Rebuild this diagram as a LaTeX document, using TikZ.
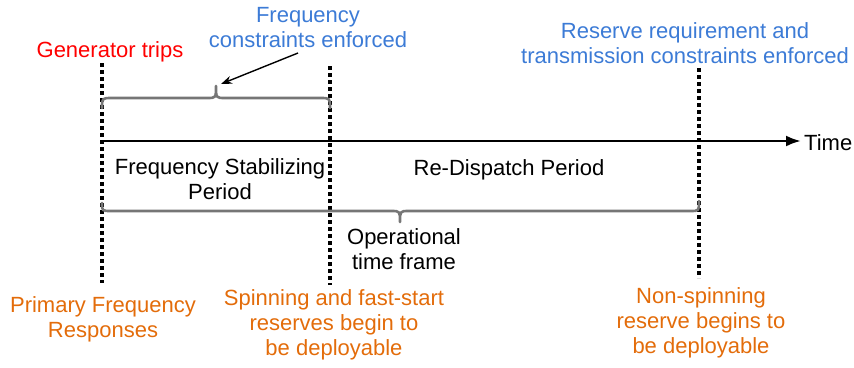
\documentclass[tikz,border=0pt]{standalone}
\usepackage{fontspec}
\setmainfont{Liberation Sans}
\usetikzlibrary{arrows.meta}
\definecolor{tripred}{HTML}{FF0000}
\definecolor{enforceblue}{HTML}{3C7BD6}
\definecolor{reserveorange}{HTML}{E36C0A}
\definecolor{bracegray}{HTML}{767676}
\tikzset{
  lbl/.style={font=\fontsize{22}{25}\selectfont, align=center, anchor=base, inner sep=0pt},
  marker/.style={line width=3.2pt, dash pattern=on 4pt off 3pt},
  bracepath/.style={draw=bracegray, line width=2.6pt, line cap=round, line join=round},
  axis/.style={line width=2.6pt, -{Latex[length=15pt,width=11pt]}},
  pointer/.style={line width=1.4pt, -{Stealth[length=11pt,width=8pt]}},
}
\begin{document}
\begin{tikzpicture}[x=1pt,y=-1pt]
\useasboundingbox (0,0) rectangle (854,367);

% event markers
\coordinate (m1top) at (102,63);  \coordinate (m1bot) at (102,283);
\coordinate (m2top) at (330,66);  \coordinate (m2bot) at (330,285);
\coordinate (m3top) at (699,68);  \coordinate (m3bot) at (699,278);
\draw[marker] (m1top) -- (m1bot);
\draw[marker] (m2top) -- (m2bot);
\draw[marker] (m3top) -- (m3bot);

% time axis
\coordinate (t0) at (102,141);
\coordinate (t1) at (801,141);
\draw[axis] (t0) -- (t1);
\node[lbl, anchor=base west] (time) at (804,150) {Time};

% brace over the stabilizing period
\coordinate (toptip) at (216,86);
\draw[bracepath] (102,108) .. controls (102,98) .. (112,98) -- (207,98)
  .. controls (216,98) .. (toptip) .. controls (216,98) .. (225,98) -- (320,98)
  .. controls (330,98) .. (330,108);

% brace under the whole operational frame
\coordinate (bottip) at (400,222);
\draw[bracepath] (102,203) .. controls (102,211) .. (111,211) -- (391,211)
  .. controls (400,211) .. (bottip) .. controls (400,211) .. (409,211) -- (690,211)
  .. controls (699,211) .. (699,201);

% labels above the axis (base anchor = baseline of the last line)
\node[lbl, text=tripred] (trip) at (110,57) {Generator trips};
\node[lbl, text=enforceblue] (freqc) at (308,47) {Frequency\\constraints enforced};
\node[lbl, text=enforceblue] (resc) at (685,63) {Reserve requirement and\\transmission constraints enforced};

% pointer from the frequency-constraint note to the brace tip
\coordinate (ptrstart) at (298,53);
\coordinate (ptrend) at (221,84);
\draw[pointer] (ptrstart) -- (ptrend);

% period labels
\node[lbl] (stab) at (220,199) {Frequency Stabilizing\\Period};
\node[lbl] (redisp) at (509,175) {Re-Dispatch Period};
\node[lbl] (opframe) at (404,269) {Operational\\time frame};

% reserve labels below
\node[lbl, text=reserveorange] (pfr) at (103,337) {Primary Frequency\\Responses};
\node[lbl, text=reserveorange] (spin) at (334,355) {Spinning and fast-start\\reserves begin to\\be deployable};
\node[lbl, text=reserveorange] (nonspin) at (701,353) {Non-spinning\\reserve begins to\\be deployable};
\end{tikzpicture}
\end{document}
